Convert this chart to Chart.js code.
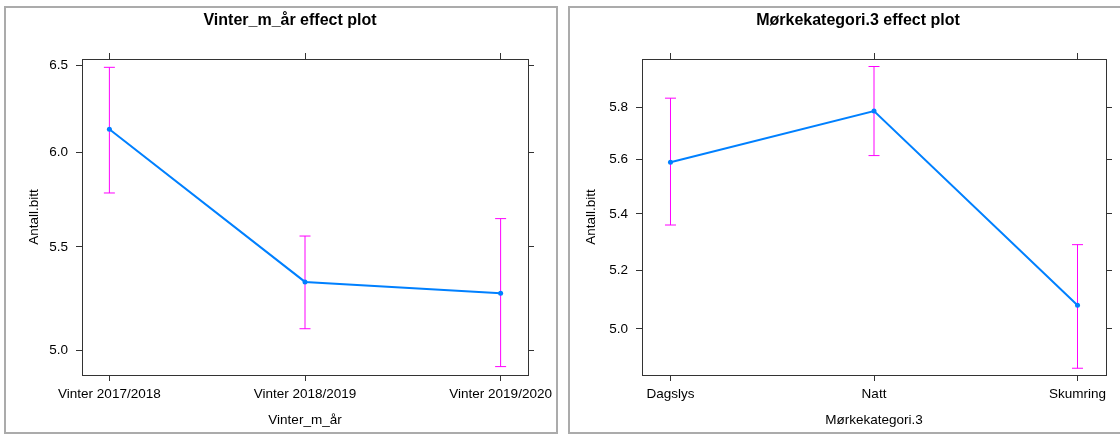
<!DOCTYPE html>
<html>
<head>
<meta charset="utf-8">
<script src="https://cdn.jsdelivr.net/npm/chart.js@4.4.1/dist/chart.umd.min.js"></script>
<style>
  html, body { margin: 0; padding: 0; background: #fff; overflow: hidden; width: 1120px; height: 437px; }
  .frame { position: absolute; box-sizing: border-box; border: 2px solid #ababab; }
  canvas { position: absolute; top: 0; }
</style>
</head>
<body>
<div class="frame" style="left:4px; top:6px; width:554px; height:428px"></div>
<div class="frame" style="left:568px; top:6px; width:560px; height:428px"></div>
<canvas id="winter" width="580" height="437" style="left:0"></canvas>
<canvas id="dark" width="596" height="437" style="left:560px"></canvas>
<script>
// Effect estimates (response scale) with 95% confidence limits
const winterCategories = ['Vinter 2017/2018', 'Vinter 2018/2019', 'Vinter 2019/2020'];
const winterFit   = [6.13, 5.325, 5.27];
const winterLower = [5.78, 5.10, 4.925];
const winterUpper = [6.49, 5.555, 5.645];
const winterTicks = [5.0, 5.5, 6.0, 6.5];
const winterRange = [4.887, 6.54];

const darkCategories = ['Dagslys', 'Natt', 'Skumring'];
const darkFit   = [5.59, 5.785, 5.08];
const darkLower = [5.36, 5.615, 4.87];
const darkUpper = [5.835, 5.96, 5.29];
const darkTicks = [5.0, 5.2, 5.4, 5.6, 5.8];
const darkRange = [4.848, 5.99];

const LINE_COLOR = '#0080ff';
const CI_COLOR = '#ff00ff';
const AXIS_COLOR = '#333333';
const LABEL_SIZE = 13.5;

Chart.defaults.font.family = "'Liberation Sans', Arial, sans-serif";
Chart.defaults.color = '#000';

function effectPanel(canvasId, p) {
  const xs = p.categories.map((_, i) => i + 1);

  const ciBars = p.categories.map((_, i) => ({
    data: [{ x: xs[i], y: p.lower[i] }, { x: xs[i], y: p.upper[i] }],
    borderColor: CI_COLOR,
    borderWidth: 1,
    pointStyle: 'line',
    pointRadius: 5.5,
    pointBorderColor: CI_COLOR,
    pointBorderWidth: 1,
    order: 2
  }));

  const fitLine = {
    data: xs.map((x, i) => ({ x: x, y: p.fit[i] })),
    borderColor: LINE_COLOR,
    borderWidth: 2,
    tension: 0,
    pointRadius: 2.5,
    pointBackgroundColor: LINE_COLOR,
    pointBorderWidth: 0,
    order: 1
  };

  const categoryTicks = s => { s.ticks = xs.map(v => ({ value: v })); };
  const valueTicks = s => { s.ticks = p.ticks.map(v => ({ value: v })); };
  const frame = { display: true, color: AXIS_COLOR, width: 1 };
  const marks = { drawOnChartArea: false, drawTicks: true, tickLength: 6, color: AXIS_COLOR, tickColor: AXIS_COLOR };
  const xLimits = { min: 0.86, max: 3.14 };

  return new Chart(document.getElementById(canvasId), {
    type: 'line',
    data: { datasets: [fitLine, ...ciBars] },
    options: {
      responsive: false,
      animation: false,
      events: [],
      layout: { padding: 0 },
      plugins: {
        legend: { display: false },
        tooltip: { enabled: false },
        title: {
          display: true,
          text: p.title,
          color: '#000',
          font: { size: 16, weight: 'bold' },
          padding: { top: 11.4, bottom: 0 }
        }
      },
      scales: {
        x: {
          type: 'linear', position: 'bottom', bounds: 'data', ...xLimits,
          afterBuildTicks: categoryTicks,
          ticks: { autoSkip: false, maxRotation: 0, padding: 5.5, color: '#000', font: { size: LABEL_SIZE },
                   callback: (v, i) => p.categories[i] },
          grid: marks, border: frame,
          title: { display: true, text: p.xTitle, color: '#000', font: { size: LABEL_SIZE }, padding: { top: 0, bottom: 8.9 } },
          afterFit: s => { s.height = 62; }
        },
        xTop: {
          type: 'linear', position: 'top', bounds: 'data', ...xLimits,
          afterBuildTicks: categoryTicks,
          ticks: { display: false },
          grid: marks, border: frame,
          afterFit: s => { s.height = 28.4; }
        },
        y: {
          type: 'logarithmic', position: 'left', bounds: 'data', min: p.range[0], max: p.range[1],
          afterBuildTicks: valueTicks,
          ticks: { autoSkip: false, padding: 8, color: '#000', font: { size: LABEL_SIZE },
                   callback: v => Number(v).toFixed(1) },
          grid: marks, border: frame,
          title: { display: true, text: 'Antall.bitt', color: '#000', font: { size: LABEL_SIZE }, padding: { top: p.yTitlePad, bottom: 0 } },
          afterFit: s => { s.width = p.leftWidth; }
        },
        yRight: {
          type: 'logarithmic', position: 'right', bounds: 'data', min: p.range[0], max: p.range[1],
          afterBuildTicks: valueTicks,
          ticks: { display: false },
          grid: marks, border: frame,
          afterFit: s => { s.width = p.rightWidth; }
        }
      }
    }
  });
}

effectPanel('winter', {
  title: 'Vinter_m_år effect plot',
  xTitle: 'Vinter_m_år',
  categories: winterCategories,
  fit: winterFit, lower: winterLower, upper: winterUpper,
  ticks: winterTicks, range: winterRange,
  leftWidth: 82, rightWidth: 52, yTitlePad: 26.2
});

effectPanel('dark', {
  title: 'Mørkekategori.3 effect plot',
  xTitle: 'Mørkekategori.3',
  categories: darkCategories,
  fit: darkFit, lower: darkLower, upper: darkUpper,
  ticks: darkTicks, range: darkRange,
  leftWidth: 82, rightWidth: 50, yTitlePad: 23.6
});
</script>
</body>
</html>
